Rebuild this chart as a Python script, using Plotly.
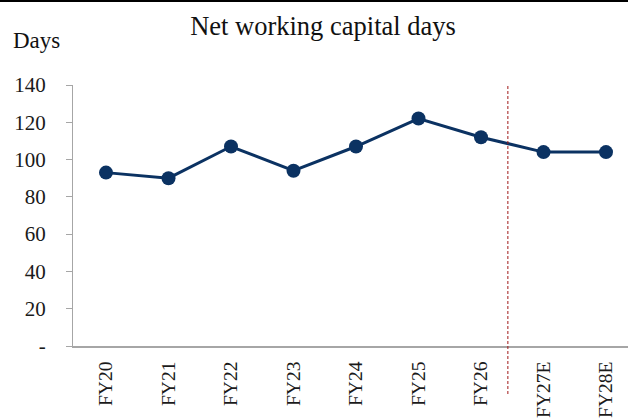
import plotly.graph_objects as go

categories = ["FY20", "FY21", "FY22", "FY23", "FY24", "FY25", "FY26", "FY27E", "FY28E"]
nwc_days = [93, 90, 107, 94, 107, 122, 112, 104, 104]
ytick_vals = [0, 20, 40, 60, 80, 100, 120, 140]
ytick_text = ["-", "20", "40", "60", "80", "100", "120", "140"]

W, H = 628, 420
L, R, T, B = 73, 0, 85, 74
serif = "Book Antiqua, Palatino Linotype, Liberation Serif, DejaVu Serif, serif"

fig = go.Figure()
fig.add_trace(go.Scatter(
    x=categories, y=nwc_days, mode="lines+markers",
    line=dict(color="#0b3262", width=3),
    marker=dict(color="#0b3262", size=14),
    cliponaxis=False, showlegend=False,
))

ph = H - T - B
pw = W - L - R
fig.update_layout(
    width=W, height=H,
    margin=dict(l=L, r=R, t=T, b=B, autoexpand=False),
    paper_bgcolor="white", plot_bgcolor="white",
    font=dict(family=serif, size=20, color="#1a1a1a"),
    title=dict(text="Net working capital days", x=(323 - L) / pw, xref="paper", xanchor="center",
               y=1 - 26 / H, yanchor="middle", font=dict(size=26.5, family=serif, color="#111")),
    xaxis=dict(
        type="category", range=[-0.528, 8.352], automargin=False,
        showline=True, linecolor="#a6a6a6", linewidth=1.5,
        ticks="", tickangle=-90, showgrid=False, zeroline=False,
        ticklabelstandoff=6,
        tickfont=dict(size=19.5, family=serif, color="#1a1a1a"),
    ),
    yaxis=dict(
        range=[0, 140], tickvals=ytick_vals, ticktext=ytick_text, automargin=False,
        showline=True, linecolor="#a6a6a6", linewidth=1,
        ticks="outside", ticklen=6, tickcolor="#a6a6a6",
        showgrid=False, zeroline=False,
        ticklabelstandoff=16,
        tickfont=dict(size=21, family=serif, color="#1a1a1a"),
    ),
    annotations=[dict(
        text="Days", xref="paper", yref="paper",
        x=-(L - 11) / pw, y=(H - B - 41) / ph, xanchor="left", yanchor="middle",
        showarrow=False, font=dict(size=23, family=serif, color="#111"),
    )],
    shapes=[
        dict(type="line", xref="x", yref="paper", x0=6.43, x1=6.43,
             y0=(H - B - 86) / ph, y1=(H - B - 395) / ph,
             line=dict(color="#a01818", width=1, dash="3px,2px")),
        dict(type="line", xref="paper", yref="paper", x0=-L / pw, x1=1,
             y0=(H - B - 1) / ph, y1=(H - B - 1) / ph,
             line=dict(color="#000", width=2)),
    ],
)

fig.write_html("out.html")
